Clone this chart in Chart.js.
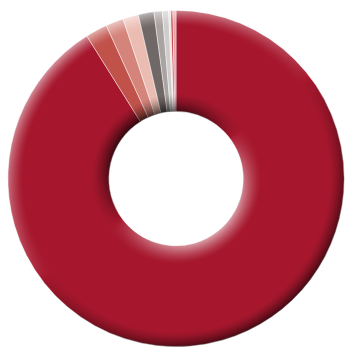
<!DOCTYPE html>
<html lang="en">
<head>
<meta charset="UTF-8" />
<title>Doughnut</title>
<script src="https://cdn.jsdelivr.net/npm/chart.js@4.4.0/dist/chart.umd.min.js"></script>
<style>
  html, body { margin: 0; padding: 0; background: #fff; overflow: hidden; }
  #wrap { width: 345px; height: 347px; }
</style>
</head>
<body>
<div id="wrap"><canvas id="chart"></canvas></div>
<script>
// shares (percent), clockwise from 12 o'clock
const labels = ['Segment 1', 'Segment 2', 'Segment 3', 'Segment 4', 'Segment 5',
                'Segment 6', 'Segment 7', 'Segment 8', 'Segment 9', 'Segment 10'];
const values = [91.1, 2.1, 1.7, 1.5, 1.5, 0.8, 0.6, 0.2, 0.2, 0.3];
const colors = ['#a6172d', '#c0524a', '#d4847a', '#ebbcb2', '#706866',
                '#a9a3a2', '#cfcccb', '#e6e4e4', '#c8343c', '#e8a0a5'];

// torus-like shading, light from top-left
const shading = {
  id: 'shading',
  afterDatasetsDraw(chart) {
    const arc = chart.getDatasetMeta(0).data[0];
    const cx = arc.x, cy = arc.y, ri = arc.innerRadius, ro = arc.outerRadius;
    const ctx = chart.ctx;
    const w = chart.canvas.width, h = chart.canvas.height;
    const img = ctx.getImageData(0, 0, w, h);
    const d = img.data;
    const lx = -0.6, ly = -0.8;
    for (let y = 0; y < h; y++) {
      for (let x = 0; x < w; x++) {
        const i = (y * w + x) * 4;
        if (d[i + 3] === 0) continue;
        const dx = x + 0.5 - cx, dy = y + 0.5 - cy;
        const r = Math.hypot(dx, dy);
        let c = (dx * lx + dy * ly) / r;
        c = Math.sign(c) * Math.pow(Math.abs(c), 0.7);
        const fo = Math.pow(Math.max(0, 1 - (ro - r) / 15), 1.4);
        const fi = Math.pow(Math.max(0, 1 - (r - ri) / 18), 1.4);
        let s;
        if (c > 0) s = c * fo * 0.55 - c * fi * 0.7;
        else s = c * fo * 0.6 - c * fi * 0.6;
        for (let k = 0; k < 3; k++) {
          const v = d[i + k];
          d[i + k] = s > 0 ? v + (255 - v) * s : v * (1 + s);
        }
      }
    }
    ctx.putImageData(img, 0, 0);
  }
};

new Chart(document.getElementById('chart'), {
  type: 'doughnut',
  data: {
    labels: labels,
    datasets: [{
      data: values,
      backgroundColor: colors,
      borderColor: 'rgba(255,255,255,0.55)',
      borderWidth: 0.8
    }]
  },
  options: {
    responsive: true,
    maintainAspectRatio: false,
    animation: false,
    cutout: '40%',
    layout: { padding: { left: 7, top: 10, right: 0, bottom: -1 } },
    plugins: { legend: { display: false }, tooltip: { enabled: false } }
  },
  plugins: [shading]
});
</script>
</body>
</html>
